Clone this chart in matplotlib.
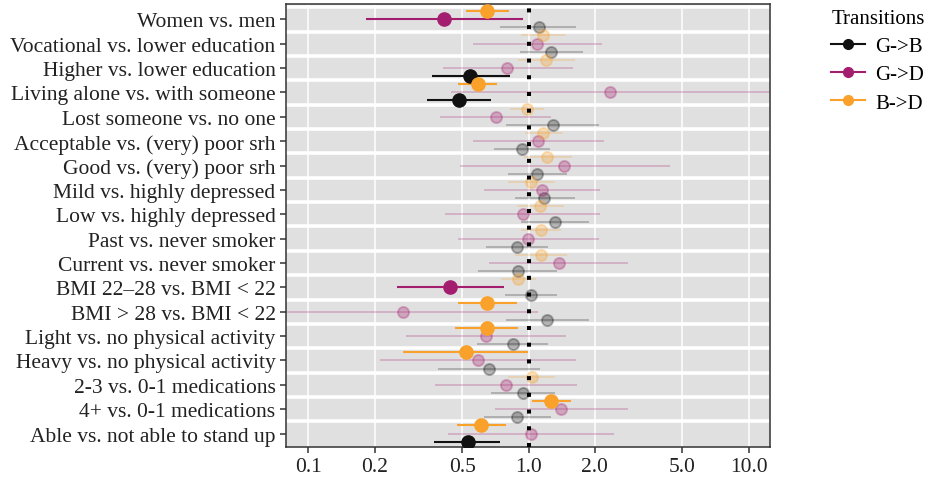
import numpy as np
import matplotlib
matplotlib.use('Agg')
import matplotlib.pyplot as plt
from matplotlib.lines import Line2D

plt.rcParams['font.family'] = ['Liberation Serif', 'DejaVu Serif']

# odds ratios with 95% CI, one row per comparison
labels = ['Women vs. men',
          'Vocational vs. lower education',
          'Higher vs. lower education',
          'Living alone vs. with someone',
          'Lost someone vs. no one',
          'Acceptable vs. (very) poor srh',
          'Good vs. (very) poor srh',
          'Mild vs. highly depressed',
          'Low vs. highly depressed',
          'Past vs. never smoker',
          'Current vs. never smoker',
          'BMI 22\u201328 vs. BMI < 22',
          'BMI > 28 vs. BMI < 22',
          'Light vs. no physical activity',
          'Heavy vs. no physical activity',
          '2-3 vs. 0-1 medications',
          '4+ vs. 0-1 medications',
          'Able vs. not able to stand up']

gb_est = [1.11, 1.27, 0.545, 0.485, 1.285, 0.933, 1.09, 1.18, 1.32, 0.885, 0.895, 1.028, 1.215, 0.852, 0.661, 0.946, 0.888, 0.529]
gb_lo  = [0.743, 0.91, 0.364, 0.346, 0.789, 0.698, 0.806, 0.864, 0.926, 0.642, 0.589, 0.784, 0.789, 0.585, 0.388, 0.677, 0.629, 0.374]
gb_hi  = [1.645, 1.76, 0.826, 0.677, 2.10, 1.25, 1.49, 1.62, 1.88, 1.22, 1.35, 1.35, 1.88, 1.228, 1.13, 1.317, 1.26, 0.743]

gd_est = [0.413, 1.09, 0.80, 2.35, 0.711, 1.10, 1.456, 1.153, 0.943, 0.993, 1.37, 0.441, 0.269, 0.64, 0.587, 0.792, 1.407, 1.025]
gd_lo  = [0.183, 0.557, 0.407, 0.444, 0.397, 0.557, 0.49, 0.625, 0.416, 0.476, 0.658, 0.252, 0.06, 0.277, 0.211, 0.377, 0.706, 0.432]
gd_hi  = [0.94, 2.15, 1.60, 14.0, 1.27, 2.20, 4.40, 2.12, 2.12, 2.08, 2.84, 0.773, 1.099, 1.477, 1.645, 1.66, 2.82, 2.45]

bd_est = [0.647, 1.16, 1.20, 0.587, 0.983, 1.16, 1.21, 1.025, 1.13, 1.14, 1.14, 0.895, 0.649, 0.647, 0.521, 1.035, 1.27, 0.61]
bd_lo  = [0.52, 0.926, 0.90, 0.48, 0.826, 0.966, 0.949, 0.803, 0.885, 0.926, 0.87, 0.749, 0.478, 0.465, 0.27, 0.811, 1.04, 0.474]
bd_hi  = [0.817, 1.47, 1.62, 0.718, 1.18, 1.43, 1.57, 1.317, 1.45, 1.41, 1.50, 1.076, 0.891, 0.90, 0.995, 1.32, 1.556, 0.787]

ticks = [0.1, 0.2, 0.5, 1.0, 2.0, 5.0, 10.0]
tick_labels = ['0.1', '0.2', '0.5', '1.0', '2.0', '5.0', '10.0']

series = [('G->B', '#111111', gb_est, gb_lo, gb_hi, -0.33),
          ('G->D', '#A41E6F', gd_est, gd_lo, gd_hi, 0.0),
          ('B->D', '#F9A12A', bd_est, bd_lo, bd_hi, 0.34)]

n = len(labels)
ypos = np.arange(n)[::-1]

fig = plt.figure(figsize=(9.29, 4.81), dpi=100)
ax = fig.add_axes([0.3079, 0.0686, 0.8289 - 0.3079, 0.9896 - 0.0686])
ax.set_facecolor('#E0E0E0')

ax.set_xscale('log')
ax.set_xlim(0.0792, 12.5)
ax.set_ylim(-0.55, n - 1 + 0.63)

for t in ticks:
    ax.axvline(t, color='white', lw=1.1, zorder=1)
for k in range(n):
    ax.axhline(k + 0.5, color='white', lw=2.6, zorder=1)

for name, color, est, lo, hi, off in series:
    for i in range(n):
        y = ypos[i] + off
        sig = hi[i] < 1.0 or lo[i] > 1.0
        if sig:
            ax.plot([lo[i], hi[i]], [y, y], color=color, lw=1.5, solid_capstyle='butt', zorder=4)
            ax.plot(est[i], y, 'o', color=color, ms=9.5, mec=color, zorder=5)
        else:
            ax.plot([lo[i], hi[i]], [y, y], color=color, lw=1.1, alpha=0.3, solid_capstyle='butt', zorder=2)
            ax.plot(est[i], y, 'o', color=color, ms=8, mew=1.4, mec=color, alpha=0.3, zorder=3)

ax.axvline(1.0, color='black', lw=2.9, dashes=(1, 3.15), dash_capstyle='butt', zorder=6)

ax.set_yticks(ypos)
ax.set_yticklabels(labels)
ax.set_xticks(ticks)
ax.set_xticklabels(tick_labels)
ax.xaxis.set_minor_locator(matplotlib.ticker.NullLocator())
ax.tick_params(axis='both', labelsize=15.5, colors='#333333', labelcolor='#222222', length=4, width=1.1)

for s in ax.spines.values():
    s.set_color('#333333')
    s.set_linewidth(1.1)

handles = [Line2D([0], [0], color=c, lw=1.5, marker='o', ms=7) for _, c, *_ in series]
leg = fig.legend(handles, [s[0] for s in series], title='Transitions', loc='upper left',
                 bbox_to_anchor=(0.879, 1.01), frameon=False, fontsize=15, title_fontsize=15,
                 handlelength=1.6, handletextpad=0.5, labelspacing=0.42, borderaxespad=0.3)
leg._legend_box.align = 'left'

plt.savefig('out.png', dpi=100)
